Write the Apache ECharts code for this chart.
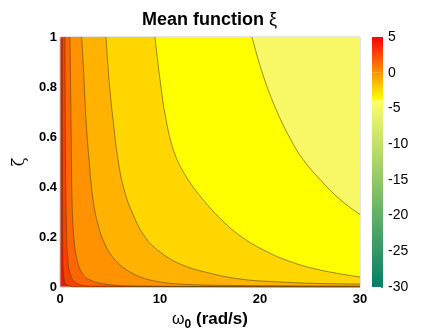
<!DOCTYPE html>
<html>
<head>
<meta charset="utf-8">
<script src="https://cdn.jsdelivr.net/npm/echarts@6/dist/echarts.min.js"></script>
<style>
html,body{margin:0;padding:0;background:#fff;}
#chart{width:425px;height:330px;}
</style>
</head>
<body>
<div id="chart"></div>
<script>
// ---- data: contour boundary curves [omega0, zeta] ----
const contourC1 = [[0.23,1],[0.25,0.35],[0.3,0.11],[0.4,0.036],[0.7,0.008],[2,0],[30,0]];
const contourC2 = [[0.5,1],[0.55,0.55],[0.65,0.23],[0.8,0.1],[1.1,0.044],[1.6,0.016],[3,0.004],[30,0]];
const contourC3 = [[1.0,1],[1.1,0.67],[1.2,0.35],[1.4,0.19],[1.7,0.11],[2.2,0.056],[3,0.028],[4.5,0.012],[7,0.004],[30,0.0005]];
const contourC4 = [[2.17,1],[2.4,0.83],[2.6,0.67],[2.9,0.51],[3.3,0.35],[3.8,0.25],[4.5,0.17],[5.5,0.108],[7,0.06],[9,0.028],[12,0.012],[18,0.006],[30,0.004]];
const contourC5 = [[4.6,1],[4.9,0.83],[5.3,0.67],[5.8,0.51],[6.4,0.39],[7.3,0.29],[8.5,0.2],[10,0.14],[12,0.092],[14.5,0.06],[18,0.032],[22,0.02],[26,0.014],[30,0.012]];
const contourC6 = [[9.5,1],[10,0.83],[10.6,0.67],[11.5,0.53],[12.8,0.43],[14.3,0.35],[16,0.275],[18,0.205],[20.5,0.145],[23,0.102],[26,0.068],[30,0.04]];
const contourC7 = [[19.2,1],[20.2,0.86],[21.5,0.72],[23,0.595],[24.3,0.51],[26,0.43],[28,0.35],[30,0.29]];
const xTicks = [0, 10, 20, 30];
const yTicks = [0, 0.2, 0.4, 0.6, 0.8, 1];
const colorbarRange = [-30, 5];

// ---- styles ----
const contours = [contourC1, contourC2, contourC3, contourC4, contourC5, contourC6, contourC7];
const baseFill = '#e8180a';
const fillColors = ['#f84000', '#ff6600', '#ff9200', '#ffb200', '#ffd600', '#ffff00', '#f8f866'];
const lineColor = 'rgba(90,70,0,0.75)';

const chart = echarts.init(document.getElementById('chart'), null, {renderer: 'canvas'});

const contourSeries = contours.map((d, i) => ({
  type: 'line',
  xAxisIndex: 0,
  yAxisIndex: 0,
  data: d,
  showSymbol: false,
  symbol: 'none',
  smooth: 0.4,
  silent: true,
  lineStyle: {color: lineColor, width: 0.8},
  areaStyle: {origin: 'end', color: fillColors[i], opacity: 1}
}));

const option = {
  animation: false,
  title: {
    text: '{b|Mean function} {n|ξ}',
    left: 137,
    top: 6,
    textStyle: {
      rich: {
        b: {fontFamily: 'Liberation Sans', fontWeight: 'bold', fontSize: 18, color: '#000'},
        n: {fontFamily: 'Liberation Sans', fontWeight: 'normal', fontSize: 18, color: '#000'}
      }
    }
  },
  grid: [
    {left: 60, top: 37, width: 300, height: 250, outerBoundsMode: 'none', containLabel: false,
     show: true, backgroundColor: baseFill, borderColor: '#c8c8c8', borderWidth: 1},
    {left: 372, top: 37, width: 11, height: 250, outerBoundsMode: 'none', containLabel: false}
  ],
  xAxis: [
    {
      type: 'value', gridIndex: 0, min: xTicks[0], max: xTicks[xTicks.length - 1], interval: 10,
      axisLine: {show: false}, axisTick: {show: false}, splitLine: {show: false},
      axisLabel: {fontFamily: 'Liberation Sans', fontWeight: 'bold', fontSize: 13, color: '#000', margin: 6},
      name: '{w|ω}{s|0}{b| (rad/s)}',
      nameLocation: 'middle',
      nameGap: 21,
      nameTextStyle: {
        rich: {
          w: {fontFamily: 'Liberation Sans', fontSize: 16, color: '#000'},
          s: {fontFamily: 'Liberation Sans', fontWeight: 'bold', fontSize: 12, color: '#000', padding: [11, 0, 0, 0]},
          b: {fontFamily: 'Liberation Sans', fontWeight: 'bold', fontSize: 17, color: '#000'}
        }
      }
    },
    {type: 'category', gridIndex: 1, data: [''], show: false}
  ],
  yAxis: [
    {
      type: 'value', gridIndex: 0, min: yTicks[0], max: yTicks[yTicks.length - 1], interval: 0.2,
      axisLine: {show: false}, axisTick: {show: false}, splitLine: {show: false},
      axisLabel: {fontFamily: 'Liberation Sans', fontWeight: 'bold', fontSize: 13, color: '#000', margin: 3},
      name: 'ζ',
      nameLocation: 'middle',
      nameRotate: 90,
      nameGap: 21,
      nameTextStyle: {fontFamily: 'DejaVu Serif', fontSize: 16, color: '#000'}
    },
    {
      type: 'value', gridIndex: 1, position: 'right',
      min: colorbarRange[0], max: colorbarRange[1], interval: 5,
      axisLine: {show: false},
      axisTick: {show: true, inside: true, length: 2, lineStyle: {color: '#777'}},
      splitLine: {show: false},
      axisLabel: {fontFamily: 'Liberation Sans', fontSize: 14, color: '#000', margin: 5}
    }
  ],
  series: contourSeries.concat([
    {
      type: 'bar', xAxisIndex: 1, yAxisIndex: 1, stack: 'cb', barWidth: '100%', silent: true,
      data: [colorbarRange[1]],
      itemStyle: {color: new echarts.graphic.LinearGradient(0, 0, 0, 1, [
        {offset: 0, color: '#ff0000'}, {offset: 1, color: '#ff9200'}
      ])}
    },
    {
      type: 'bar', xAxisIndex: 1, yAxisIndex: 1, stack: 'cb', barWidth: '100%', silent: true,
      data: [colorbarRange[0]],
      itemStyle: {color: new echarts.graphic.LinearGradient(0, 0, 0, 1, [
        {offset: 0, color: '#ff9200'}, {offset: 0.125, color: '#ffff00'},
        {offset: 0.125, color: '#ffff66'}, {offset: 1, color: '#008066'}
      ])}
    }
  ])
};
chart.setOption(option);
</script>
</body>
</html>
